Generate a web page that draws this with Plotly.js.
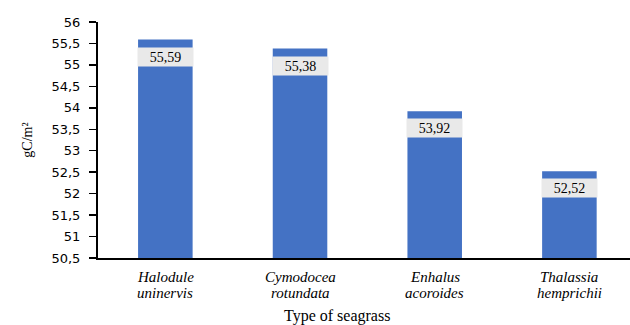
<!DOCTYPE html>
<html><head><meta charset="utf-8">
<script src="https://cdn.plot.ly/plotly-3.0.1.min.js"></script>
<style>body{margin:0;padding:0;background:#fff}#chart{width:630px;height:325px}</style>
</head><body><div id="chart"></div>
<script>
const genus = ["Halodule", "Cymodocea", "Enhalus", "Thalassia"];
const species = ["uninervis", "rotundata", "acoroides", "hemprichii"];
const values = [55.59, 55.38, 53.92, 52.52];
const valueLabels = ["55,59", "55,38", "53,92", "52,52"];
const yTicks = [50.5, 51, 51.5, 52, 52.5, 53, 53.5, 54, 54.5, 55, 55.5, 56];

const SERIF = '"Liberation Serif", "Times New Roman", serif';

const trace = {
  type: 'bar',
  x: genus.map((c, i) => i),
  y: values,
  width: 0.405,
  marker: {color: '#4472C4'},
  hoverinfo: 'none'
};

const annotations = values.map((v, i) => ({
  x: i, y: v, xref: 'x', yref: 'y',
  text: valueLabels[i],
  showarrow: false,
  yanchor: 'top', yshift: -7,
  bgcolor: '#E9E9E9',
  width: 53, height: 16, borderpad: 1,
  font: {family: SERIF, size: 14, color: '#000'}
}));

genus.forEach((g, i) => {
  annotations.push({x: i, y: -0.08, xref: 'x', yref: 'paper', text: '<i>' + g + '</i>',
    showarrow: false, yanchor: 'middle', font: {family: SERIF, size: 15, color: '#000'}});
  annotations.push({x: i, y: -0.148, xref: 'x', yref: 'paper', text: '<i>' + species[i] + '</i>',
    showarrow: false, yanchor: 'middle', font: {family: SERIF, size: 15, color: '#000'}});
});
annotations.push({x: 0.5, y: -0.254, xref: 'paper', yref: 'paper', text: 'Type of seagrass',
  showarrow: false, yanchor: 'middle', xanchor: 'center', xshift: -27, yshift: 2,
  font: {family: SERIF, size: 16, color: '#000'}});

const layout = {
  width: 630, height: 325,
  margin: {l: 98, r: 0, t: 22, b: 67},
  paper_bgcolor: '#fff', plot_bgcolor: '#fff',
  separators: ', ',
  showlegend: false,
  xaxis: {
    range: [-0.5, 3.45],
    tickvals: [0, 1, 2, 3],
    showticklabels: false,
    showgrid: false, zeroline: false,
    showline: true, linecolor: '#000', linewidth: 2,
    ticks: ''
  },
  yaxis: {
    range: [50.5, 56],
    tickvals: yTicks,
    ticktext: yTicks.map(t => String(t).replace('.', ',')),
    showgrid: false, zeroline: false,
    showline: true, linecolor: '#000', linewidth: 2,
    ticks: 'outside', ticklen: 7, tickwidth: 1.5, tickcolor: '#000',
    ticklabelstandoff: 6,
    tickfont: {family: '"DejaVu Sans", Verdana, sans-serif', size: 13, color: '#000'},
    title: {text: 'gC/m²', standoff: 16,
      font: {family: SERIF, size: 14, color: '#000'}}
  },
  annotations: annotations
};

Plotly.newPlot('chart', [trace], layout, {displayModeBar: false, staticPlot: true});
</script></body></html>
